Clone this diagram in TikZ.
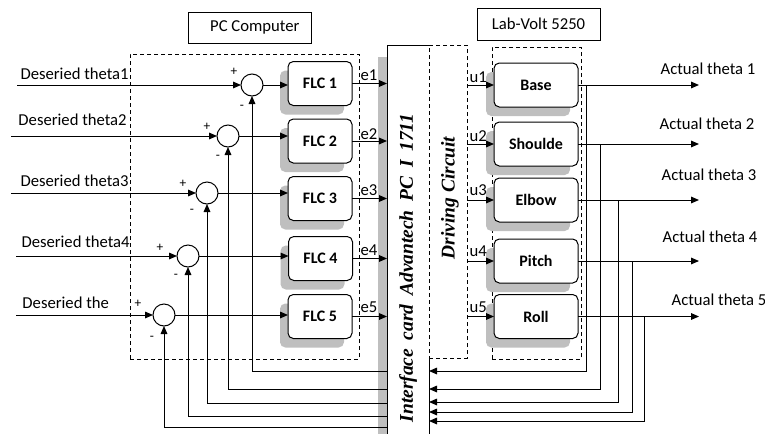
\documentclass[tikz,border=0pt]{standalone}
\usepackage{fontspec}
\setmainfont{Carlito}
\newfontfamily\cardfont{Liberation Serif}
\usetikzlibrary{arrows.meta,shadows}

\begin{document}
\begin{tikzpicture}[x=0.75pt,y=-0.75pt,
  line width=0.75pt,
  font=\fontsize{12.5}{15}\selectfont,
  >={Triangle[length=6pt,width=5pt]},
  softshadow/.style={drop shadow={shadow xshift=-6pt,shadow yshift=-6.75pt,fill=black!25,opacity=1}},
  flcbox/.style={draw, fill=white, rounded corners=4pt, minimum width=48pt, minimum height=33pt,
    inner sep=0pt, outer sep=0pt, font=\fontsize{12}{14}\selectfont\bfseries, softshadow},
  jointbox/.style={flcbox, minimum width=63pt},
  sumnode/.style={draw, fill=white, circle, minimum size=16.5pt, inner sep=0pt, outer sep=0pt},
  dashgroup/.style={draw, dash pattern=on 3pt off 2.25pt, inner sep=0pt, outer sep=0pt},
  titlebox/.style={draw, inner sep=0pt, outer sep=0pt, minimum width=92.25pt},
  pm/.style={font=\fontsize{10}{12}\selectfont, inner sep=0pt},
  txt/.style={inner sep=0pt},
  vert/.style={rotate=90, inner sep=0pt, font=\cardfont\fontsize{14.6}{17}\selectfont\bfseries\itshape},
]
\useasboundingbox (0,0) rectangle (765,433);

% titles
\node[titlebox, minimum height=23.25pt] (pctitle) at (249.5,27.5) {\hspace{8pt}PC Computer};
\node[titlebox, minimum height=24pt] (labtitle) at (538.5,24) {Lab-Volt 5250};

% dashed groups
\node[dashgroup, minimum width=171.75pt, minimum height=228.75pt] (pc) at (244.5,206.5) {};
\node[dashgroup, minimum width=66.75pt, minimum height=234pt] (lab) at (536.5,203) {};

% interface card with its shadow, and the driving circuit next to it
\node[fill=white, inner sep=0pt, outer sep=0pt, minimum width=31.5pt, minimum height=300pt,
  drop shadow={shadow xshift=-6.75pt,shadow yshift=-9pt,fill=black!25,opacity=1}] (card) at (408,245) {};
\node[dashgroup, fill=white, minimum width=28.5pt, minimum height=234.75pt] (drive) at (448,201.5) {};
\draw (drive.south west) -- (card.south east) -- (card.south west) -- (card.north west) -- (card.north east);
\node[vert] (cardtxt) at (408,268) {\spaceskip=0.45em plus 0.1em Interface card Advantech PC I 1711};
\node[vert] (drivetxt) at (450,198) {Driving Circuit};

% summing junctions
\node[sumnode] (s1) at (252,85) {};
\node[sumnode] (s2) at (228,136) {};
\node[sumnode] (s3) at (207,193) {};
\node[sumnode] (s4) at (188,256) {};
\node[sumnode] (s5) at (164,315) {};

% fuzzy controllers
\node[flcbox] (f1) at (320,83.5) {FLC 1};
\node[flcbox] (f2) at (320,141) {FLC 2};
\node[flcbox] (f3) at (320,198.5) {FLC 3};
\node[flcbox] (f4) at (320.5,258.5) {FLC 4};
\node[flcbox] (f5) at (320,316.5) {FLC 5};

% robot joints
\node[jointbox] (b1) at (536,85) {Base};
\node[jointbox] (b2) at (536,144) {Shoulde};
\node[jointbox] (b3) at (536,200) {Elbow};
\node[jointbox] (b4) at (536,261) {Pitch};
\node[jointbox] (b5) at (536,316.5) {Roll};

% reference inputs
\coordinate (in1) at (17,85);
\coordinate (in2) at (11,136);
\coordinate (in3) at (11,193);
\coordinate (in4) at (16,256);
\coordinate (in5) at (16,315);
\node[txt, anchor=west] (d1) at (20,74) {Deseried theta1};
\node[txt, anchor=west] (d2) at (18,120) {Deseried theta2};
\node[txt, anchor=west] (d3) at (20,181) {Deseried theta3};
\node[txt, anchor=west] (d4) at (21,242) {Deseried theta4};
\node[txt, anchor=west] (d5) at (22,303) {Deseried the};
\foreach \i in {1,...,5} {
  \draw[->] (in\i) -- (s\i.west);
  \draw[->] (s\i.east) -- (s\i.east -| f\i.west);
  \draw[->] (f\i.east) -- (f\i.east -| card.west);
  \draw[->] (b\i.west -| drive.east) -- (b\i.west);
}

% signs
\node[pm] (p1) at (234,72) {+};
\node[pm] (p2) at (207,127) {+};
\node[pm] (p3) at (183,184) {+};
\node[pm] (p4) at (160,248) {+};
\node[pm] (p5) at (138,304) {+};
\node[pm] (m1) at (242,107) {-};
\node[pm] (m2) at (218,157) {-};
\node[pm] (m3) at (192,211) {-};
\node[pm] (m4) at (176,276) {-};
\node[pm] (m5) at (152,338) {-};

% controller outputs and drive signals
\node[txt, anchor=south west] (e1) at (360,81) {e1};
\node[txt, anchor=south west] (e2) at (360,140) {e2};
\node[txt, anchor=south west] (e3) at (360,196) {e3};
\node[txt, anchor=south west] (e4) at (360,256) {e4};
\node[txt, anchor=south west] (e5) at (360,313) {e5};
\node[txt, anchor=south west] (u1) at (469,83) {u1};
\node[txt, anchor=south west] (u2) at (469,142) {u2};
\node[txt, anchor=south west] (u3) at (469,196) {u3};
\node[txt, anchor=south west] (u4) at (469,257) {u4};
\node[txt, anchor=south west] (u5) at (469,313) {u5};

% measured outputs
\coordinate (outx) at (699,0);
\foreach \i in {1,...,5} { \draw[->] (b\i.east) -- (b\i.east -| outx); }
\node[txt] (a1) at (708,69) {Actual theta 1};
\node[txt] (a2) at (707,124) {Actual theta 2};
\node[txt] (a3) at (709,175) {Actual theta 3};
\node[txt] (a4) at (710,237) {Actual theta 4};
\node[txt] (a5) at (719,300) {Actual theta 5};

% feedback into the interface card
\coordinate (r1) at (586,371);
\coordinate (r2) at (600,389);
\coordinate (r3) at (618,402);
\coordinate (r4) at (632,412);
\coordinate (r5) at (644,421);
% feedback from the card to the summing junctions
\coordinate (l1) at (252,371);
\coordinate (l2) at (228,389);
\coordinate (l3) at (207,403);
\coordinate (l4) at (188,416);
\coordinate (l5) at (164,427);
\foreach \i in {1,...,5} {
  \draw[->] (b\i.east -| r\i) -- (r\i) -- (r\i -| card.east);
  \draw[->] (l\i -| card.west) -- (l\i) -- (s\i.south);
}
\end{tikzpicture}
\end{document}
